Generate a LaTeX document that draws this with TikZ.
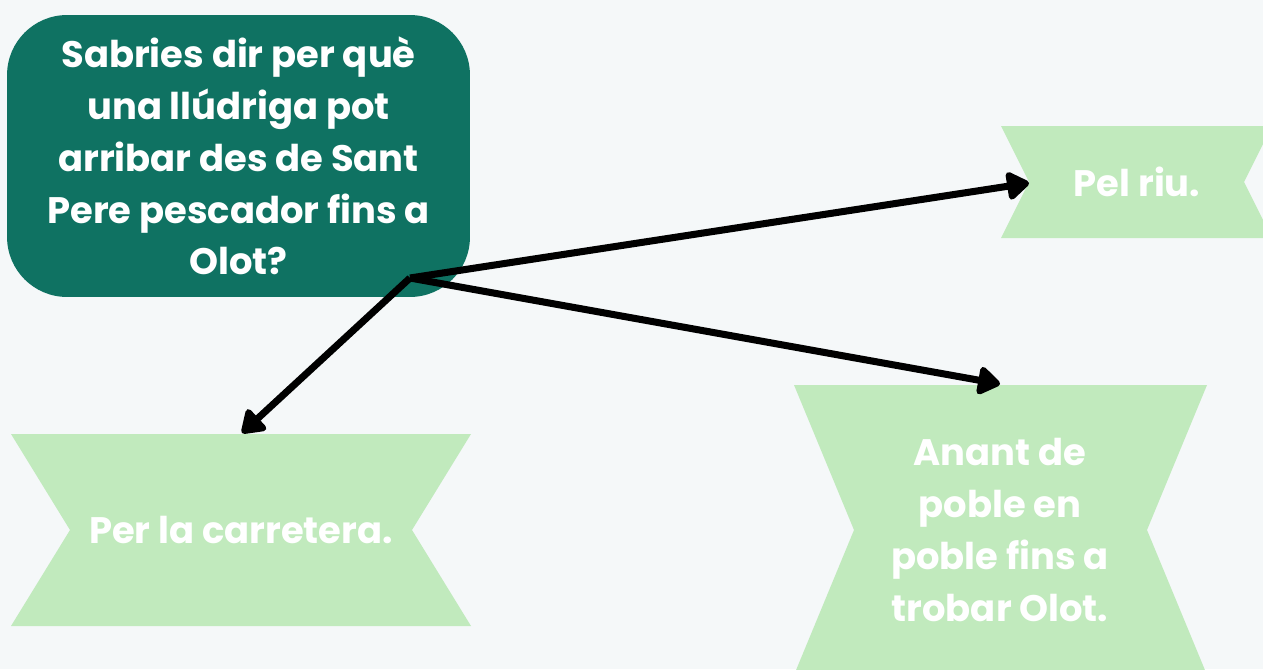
\documentclass[tikz,border=0pt]{standalone}
\usepackage{fontspec}
\setmainfont{Poppins}
\usepackage{tikz}
\usetikzlibrary{arrows.meta}
\usetikzlibrary{positioning}
\usetikzlibrary{calc}
\definecolor{bgcol}{HTML}{F5F8F9}
\definecolor{darkteal}{HTML}{0F7262}
\definecolor{palegreen}{HTML}{C1EABD}
\tikzset{>={Triangle[length=14pt,width=18pt,round]}, line join=round,
  question/.style={fill=darkteal, rounded corners=1.2cm, minimum width=9.26cm, minimum height=5.64cm},
  ribbon/.style={fill=palegreen},
  lbl/.style={text=white, align=center, font=\bfseries\fontsize{21}{29.5}\selectfont},
  link/.style={->, draw=black, line width=4pt}}

\begin{document}
\begin{tikzpicture}[x=0.02cm, y=-0.02cm]
\fill [bgcol] (0,0) rectangle (1263,669);
\useasboundingbox (0,0) rectangle (1263,669);
\clip (0,0) rectangle (1263,669);
\node [question] (q) at (238.5,156) {};
\node [lbl] (qtext) at (238.5,156) {Sabries dir per què\\una llúdriga pot\\arribar des de Sant\\Pere pescador fins a\\Olot?};
\fill [ribbon] (1001,126) -- (1272,126) -- (1244,182) -- (1272,238) -- (1001,238) -- (1029,182) -- cycle;
\node [lbl] (riu) at (1137,182) {Pel riu.};
\fill [ribbon] (11,434) -- (471,434) -- (412,530) -- (471,626) -- (11,626) -- (70,530) -- cycle;
\node [lbl] (road) at (241,530) {Per la carretera.};
\fill [ribbon] (794,385) -- (1207,385) -- (1147,530) -- (1207,675) -- (794,675) -- (854,530) -- cycle;
\node [lbl] (poble) at (1000,530) {Anant de\\poble en\\poble fins a\\trobar Olot.};
\coordinate (src) at (410,278);
\coordinate (riuin) at (1029,183);
\coordinate (roadin) at (242,433);
\coordinate (poblein) at (1000,384);
\draw [link] (src) -- (riuin);
\draw [link] (src) -- (roadin);
\draw [link] (src) -- (poblein);
\end{tikzpicture}
\end{document}
